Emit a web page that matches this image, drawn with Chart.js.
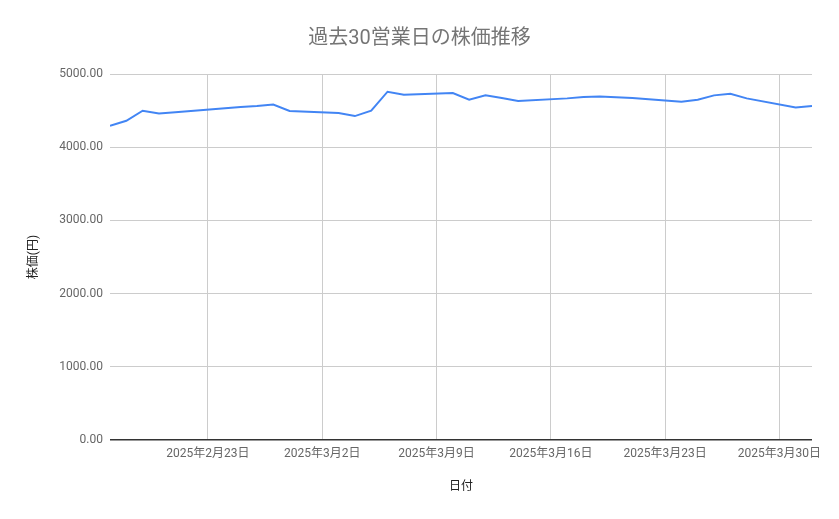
<!DOCTYPE html>
<html>
<head>
<meta charset="utf-8">
<script src="https://cdn.jsdelivr.net/npm/chart.js@4"></script>
<style>
  html, body { margin: 0; padding: 0; background: #fff; }
  #wrap { width: 839px; height: 519px; }
</style>
</head>
<body>
<div id="wrap"><canvas id="stockChart" width="839" height="519"></canvas></div>
<script>
// 営業日 (取引日) と終値
const dates = [
  '2025-02-17', '2025-02-18', '2025-02-19', '2025-02-20', '2025-02-21',
  '2025-02-25', '2025-02-26', '2025-02-27', '2025-02-28',
  '2025-03-03', '2025-03-04', '2025-03-05', '2025-03-06', '2025-03-07',
  '2025-03-10', '2025-03-11', '2025-03-12', '2025-03-13', '2025-03-14',
  '2025-03-17', '2025-03-18', '2025-03-19', '2025-03-21',
  '2025-03-24', '2025-03-25', '2025-03-26', '2025-03-27', '2025-03-28',
  '2025-03-31', '2025-04-01'
];
const prices = [
  4292, 4361, 4498, 4462, 4478,
  4550, 4562, 4582, 4495,
  4466, 4425, 4498, 4758, 4717,
  4740, 4648, 4710, 4671, 4632,
  4667, 4685, 4692, 4671,
  4621, 4648, 4708, 4731, 4667,
  4543, 4562
];
const tickDates = ['2025-02-23', '2025-03-02', '2025-03-09', '2025-03-16', '2025-03-23', '2025-03-30'];
const yTicks = [0, 1000, 2000, 3000, 4000, 5000];

const DAY = 86400000;
const base = Date.parse(dates[0]);
const toDay = s => Math.round((Date.parse(s) - base) / DAY);
const fmtDay = d => {
  const dt = new Date(base + d * DAY);
  return `${dt.getUTCFullYear()}年${dt.getUTCMonth() + 1}月${dt.getUTCDate()}日`;
};

const points = dates.map((d, i) => ({ x: toDay(d), y: prices[i] }));
const FONT = "Roboto, 'Noto Sans CJK JP', sans-serif";

new Chart(document.getElementById('stockChart'), {
  type: 'line',
  data: {
    datasets: [{
      label: '株価',
      data: points,
      borderColor: '#4285f4',
      borderWidth: 2,
      pointRadius: 0,
      tension: 0,
      fill: false
    }]
  },
  options: {
    responsive: false,
    animation: false,
    layout: { padding: { left: 27, right: 27, top: 0, bottom: 0 } },
    plugins: {
      legend: { display: false },
      tooltip: { enabled: false },
      title: {
        display: true,
        text: '過去30営業日の株価推移',
        color: '#757575',
        font: { family: FONT, size: 20, weight: 'normal' },
        padding: { top: 27, bottom: 23 }
      }
    },
    scales: {
      x: {
        type: 'linear',
        min: 0,
        max: toDay('2025-04-01'),
        afterBuildTicks: axis => { axis.ticks = tickDates.map(d => ({ value: toDay(d) })); },
        afterFit: axis => { axis.height = 79; },
        ticks: {
          callback: v => fmtDay(v),
          color: '#666',
          font: { family: FONT, size: 12 },
          padding: 7,
          maxRotation: 0,
          autoSkip: false
        },
        grid: { color: '#cccccc', drawTicks: false },
        border: { display: false },
        title: {
          display: true,
          text: '日付',
          color: '#222',
          font: { family: FONT, size: 12 },
          padding: { top: 0, bottom: 25 }
        }
      },
      y: {
        min: 0,
        max: 5000,
        afterBuildTicks: axis => { axis.ticks = yTicks.map(v => ({ value: v })); },
        afterFit: axis => { axis.width = 83; },
        ticks: {
          callback: v => v.toFixed(2),
          color: '#666',
          font: { family: FONT, size: 12 },
          padding: 7
        },
        grid: {
          color: ctx => ctx.tick && ctx.tick.value === 0 ? '#333' : '#cccccc',
          lineWidth: ctx => ctx.tick && ctx.tick.value === 0 ? 1.5 : 1,
          drawTicks: false
        },
        border: { display: false },
        title: {
          display: true,
          text: '株価(円)',
          color: '#222',
          font: { family: FONT, size: 12 },
          padding: { top: 0, bottom: 0 }
        }
      }
    }
  }
});
</script>
</body>
</html>
